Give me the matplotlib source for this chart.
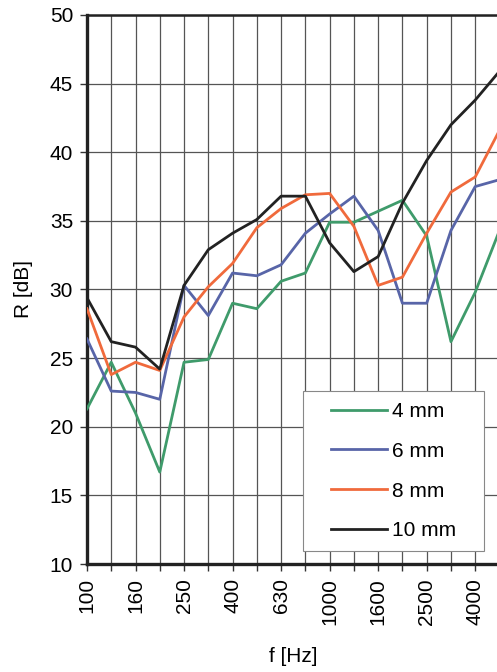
import matplotlib.pyplot as plt
from matplotlib.legend_handler import HandlerLine2D
import numpy as np

plt.rcParams['font.family'] = ['Liberation Sans', 'DejaVu Sans']

# 1/3 octave band centre frequencies [Hz]
freqs = [100, 125, 160, 200, 250, 315, 400, 500, 630, 800,
         1000, 1250, 1600, 2000, 2500, 3150, 4000, 5000]

# sound reduction index R [dB] for each panel thickness
r_4mm = [21.3, 24.7, 21.0, 16.7, 24.7, 24.9, 29.0, 28.6, 30.6, 31.2,
         34.9, 34.9, 35.7, 36.5, 33.9, 26.2, 29.8, 34.3]
r_6mm = [26.4, 22.6, 22.5, 22.0, 30.3, 28.1, 31.2, 31.0, 31.8, 34.1,
         35.5, 36.8, 34.3, 29.0, 29.0, 34.3, 37.5, 38.0]
r_8mm = [28.6, 23.8, 24.7, 24.1, 28.0, 30.2, 31.9, 34.5, 35.9, 36.9,
         37.0, 34.6, 30.3, 30.9, 34.1, 37.1, 38.2, 41.6]
r_10mm = [29.4, 26.2, 25.8, 24.2, 30.3, 32.9, 34.1, 35.1, 36.8, 36.8,
          33.4, 31.3, 32.4, 36.3, 39.4, 42.0, 43.8, 45.9]

series = [('4 mm', r_4mm, '#3f9b6b'),
          ('6 mm', r_6mm, '#5865a8'),
          ('8 mm', r_8mm, '#f06a3c'),
          ('10 mm', r_10mm, '#222222')]

fig = plt.figure(figsize=(4.97, 6.72), dpi=100)
ax = fig.add_axes([0.175, 0.1607, 0.830, 0.817])

x = np.arange(len(freqs))
for label, vals, col in series:
    ax.plot(x, vals, color=col, lw=2.0, label=label + '\u00a0\u00a0\u00a0', zorder=3)

ax.set_xlim(0, len(freqs) - 1)
ax.set_ylim(10, 50)
ax.set_yticks(np.arange(10, 51, 5))
ax.set_xticks(x)
ax.set_xticklabels([str(f) if i % 2 == 0 else '' for i, f in enumerate(freqs)],
                   rotation=90)
ax.tick_params(axis='both', labelsize=15, length=5, width=1, color='#333333',
               pad=5)
ax.grid(True, color='#555555', lw=0.9)
ax.set_axisbelow(True)

for side in ['left', 'bottom']:
    ax.spines[side].set_linewidth(2.4)
    ax.spines[side].set_color('#222222')
ax.spines['top'].set_linewidth(1.8)
ax.spines['top'].set_color('#222222')
ax.spines['right'].set_linewidth(1.8)

ax.set_xlabel('f [Hz]', fontsize=15, labelpad=16)
ax.set_ylabel('R [dB]', fontsize=15, labelpad=12)

leg = ax.legend(loc='lower right', bbox_to_anchor=(0.962, 0.024), fontsize=15,
                handlelength=3.5, labelspacing=1.0, borderpad=0.5,
                handletextpad=0.25, fancybox=False, framealpha=1,
                edgecolor='#888888', borderaxespad=0,
                handler_map={plt.Line2D: HandlerLine2D(xpad=0.8)})
leg.get_frame().set_linewidth(0.8)

plt.savefig('out.png', dpi=100)
